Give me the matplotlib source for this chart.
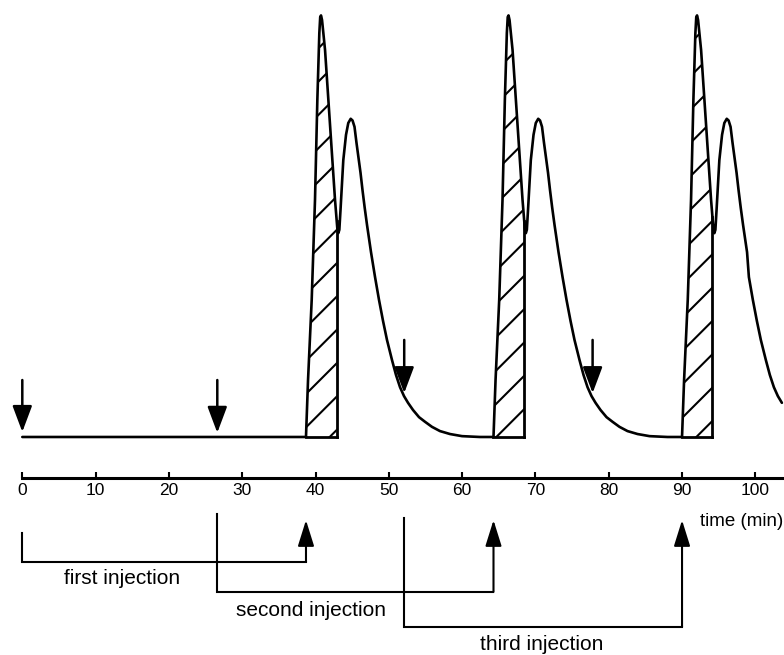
import numpy as np
import matplotlib
matplotlib.use('Agg')
import matplotlib.pyplot as plt

plt.rcParams['font.family'] = ['Liberation Sans', 'DejaVu Sans']
plt.rcParams['hatch.linewidth'] = 1.5

# detector trace (time in min, signal in arbitrary units, peak = 100)
trace_t = [0,
           38.70, 38.98, 39.48, 39.93, 40.25, 40.52, 40.64, 40.75, 40.89, 41.30, 41.75, 42.21,
           42.66, 42.97, 43.11, 43.25, 43.41, 43.79, 44.16, 44.47, 44.80, 45.05, 45.32, 45.59,
           45.87, 46.14, 46.41, 46.71, 47.03, 47.57, 48.12, 48.66, 49.21, 49.75, 50.44, 50.98,
           51.53, 52.07, 52.62, 53.30, 54.12, 54.94, 55.89, 56.98, 58.35, 59.99, 62.44,
           64.28, 64.56, 65.06, 65.51, 65.83, 66.10, 66.22, 66.33, 66.47, 66.88, 67.33, 67.79,
           68.24, 68.55, 68.69, 68.83, 68.99, 69.37, 69.74, 70.05, 70.38, 70.63, 70.90, 71.17,
           71.45, 71.72, 71.99, 72.29, 72.61, 73.15, 73.70, 74.24, 74.79, 75.33, 76.02, 76.56,
           77.11, 77.65, 78.20, 78.88, 79.70, 80.52, 81.47, 82.56, 83.93, 85.57, 88.02,
           90.00, 90.28, 90.78, 91.23, 91.55, 91.82, 91.94, 92.05, 92.19, 92.60, 93.05, 93.51,
           93.96, 94.27, 94.41, 94.55, 94.71, 95.09, 95.46, 95.77, 96.10, 96.35, 96.62, 96.89,
           97.17, 97.44, 97.71, 98.01, 98.33, 98.87, 99.12, 99.66, 100.21, 100.75, 101.44, 101.98,
           102.53, 103.07, 103.62]
trace_s = [0,
           0, 13.5, 32.5, 56.2, 79.9, 95.7, 99.5, 99.9, 98.8, 91.7, 79.9, 68.0,
           56.2, 49.5, 48.3, 49.1, 53.8, 65.6, 71.6, 74.4, 75.4, 75.0, 73.5, 69.7,
           66.1, 62.6, 58.5, 54.3, 50.2, 43.8, 37.9, 32.5, 27.5, 23.0, 18.2, 14.7,
           11.8, 9.7, 8.1, 6.4, 4.7, 3.6, 2.4, 1.4, 0.7, 0.2, 0,
           0, 13.5, 32.5, 56.2, 79.9, 95.7, 99.5, 99.9, 98.8, 91.7, 79.9, 68.0,
           56.2, 49.5, 48.3, 49.1, 53.8, 65.6, 71.6, 74.4, 75.4, 75.0, 73.5, 69.7,
           66.1, 62.6, 58.5, 54.3, 50.2, 43.8, 37.9, 32.5, 27.5, 23.0, 18.2, 14.7,
           11.8, 9.7, 8.1, 6.4, 4.7, 3.6, 2.4, 1.4, 0.7, 0.2, 0,
           0, 13.5, 32.5, 56.2, 79.9, 95.7, 99.5, 99.9, 98.8, 91.7, 79.9, 68.0,
           56.2, 49.5, 48.3, 49.1, 53.8, 65.6, 71.6, 74.4, 75.4, 75.0, 73.5, 69.7,
           66.1, 62.6, 58.5, 54.3, 50.2, 43.8, 37.9, 32.5, 27.5, 23.0, 18.2, 14.7,
           11.8, 9.7, 8.1]

collect_start = [38.70, 64.28, 90.00]   # hatched fraction starts
collect_end = [42.89, 68.47, 94.15]     # hatched fraction ends
inject_times = [0, 26.6, 52.1]
marker_times = [0, 26.6, 52.1, 77.8]
inject_labels = ['first injection', 'second injection', 'third injection']
xticks = [0, 10, 20, 30, 40, 50, 60, 70, 80, 90, 100]

# layout (signal units)
marker_top = [13.5, 13.5, 23.0, 23.0]
marker_tip = [1.2, 1.0, 10.4, 10.4]
brk_top = [-22.7, -18.2, -19.2]
brk_low = [-29.6, -36.7, -45.0]
brk_tip = -19.7
label_x = [13.6, 39.45, 70.8]
label_y = [-33.6, -41.2, -49.2]

t = np.array(trace_t)
s = np.array(trace_s)

fig = plt.figure(figsize=(7.84, 6.55), dpi=100)
ax = fig.add_axes([0, 0, 1, 1])
ax.set_xlim(-3.042, 103.91)
ax.set_ylim(-51.66, 103.55)
ax.patch.set_visible(False)

# hatched collected fractions
for a, b in zip(collect_start, collect_end):
    m = (t >= a - 1e-6) & (t <= b)
    yb = np.interp(b, t, s)
    px = np.concatenate([t[m], [b, b]])
    py = np.concatenate([s[m], [yb, 0]])
    ax.fill(px, py, facecolor='white', edgecolor='black', hatch='/', linewidth=0, zorder=1)
    ax.plot([b, b], [0, yb], color='black', lw=2, zorder=3)
    ax.plot([a, b], [0, 0], color='black', lw=2, zorder=3)

ax.plot(t, s, color='black', lw=1.9, solid_joinstyle='round', solid_capstyle='round', zorder=4)

# injection markers on the trace
for x, y0, y1 in zip(marker_times, marker_top, marker_tip):
    ax.annotate('', xy=(x, y1), xytext=(x, y0),
                arrowprops=dict(arrowstyle='-|>,head_length=0.8,head_width=0.3', mutation_scale=20,
                                lw=1.8, color='black', shrinkA=0, shrinkB=0))

# time axis
for sp in ['top', 'left', 'right']:
    ax.spines[sp].set_visible(False)
ax.spines['bottom'].set_position(('data', -9.72))
ax.spines['bottom'].set_bounds(0, 103.91)
ax.spines['bottom'].set_linewidth(2.2)
ax.set_yticks([])
ax.set_xticks(xticks)
ax.tick_params(axis='x', direction='in', length=4.5, width=1.5, pad=3.5, labelsize=12.5)
ax.text(92.45, -20.1, 'time (min)', fontsize=13.5, ha='left', va='center')

# brackets from injection to collection
for x0, x1, yt, yl, lab, lx, ly in zip(inject_times, collect_start, brk_top, brk_low,
                                       inject_labels, label_x, label_y):
    ax.plot([x0, x0, x1], [yt, yl, yl], color='black', lw=1.5, solid_joinstyle='miter')
    ax.annotate('', xy=(x1, brk_tip), xytext=(x1, yl),
                arrowprops=dict(arrowstyle='-|>,head_length=0.8,head_width=0.25', mutation_scale=20,
                                lw=1.5, color='black', shrinkA=0, shrinkB=0))
    ax.text(lx, ly, lab, fontsize=15, ha='center', va='center')

fig.savefig('out.png', dpi=100)
